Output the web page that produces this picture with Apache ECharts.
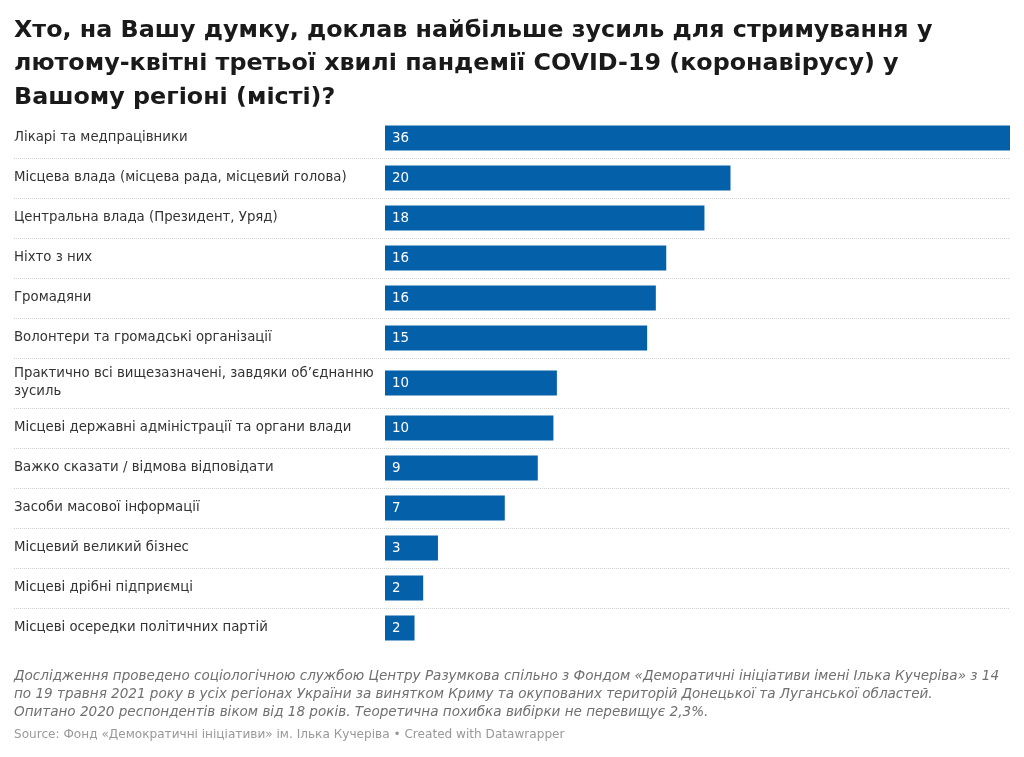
<!DOCTYPE html>
<html>
<head>
<meta charset="utf-8">
<script src="https://cdn.jsdelivr.net/npm/echarts@6/dist/echarts.min.js"></script>
<style>
  html, body { margin: 0; padding: 0; background: #fff; }
  #chart { width: 1024px; height: 757px; }
</style>
</head>
<body>
<div id="chart"></div>
<script>
const titleText = 'Хто, на Вашу думку, доклав найбільше зусиль для стримування у\nлютому-квітні третьої хвилі пандемії COVID-19 (коронавірусу) у\nВашому регіоні (місті)?';
const categories = [
  'Лікарі та медпрацівники',
  'Місцева влада (місцева рада, місцевий голова)',
  'Центральна влада (Президент, Уряд)',
  'Ніхто з них',
  'Громадяни',
  'Волонтери та громадські організації',
  'Практично всі вищезазначені, завдяки об’єднанню\nзусиль',
  'Місцеві державні адміністрації та органи влади',
  'Важко сказати / відмова відповідати',
  'Засоби масової інформації',
  'Місцевий великий бізнес',
  'Місцеві дрібні підприємці',
  'Місцеві осередки політичних партій'
];
const values = [36, 19.9, 18.4, 16.2, 15.6, 15.1, 9.9, 9.7, 8.8, 6.9, 3.05, 2.2, 1.7];
const noteText = 'Дослідження проведено соціологічною службою Центру Разумкова спільно з Фондом «Деморатичні ініціативи імені Ілька Кучеріва» з 14\nпо 19 травня 2021 року в усіх регіонах України за винятком Криму та окупованих територій Донецької та Луганської областей.\nОпитано 2020 респондентів віком від 18 років. Теоретична похибка вибірки не перевищує 2,3%.';
const sourceText = 'Source: Фонд «Демократичні ініціативи» ім. Ілька Кучеріва • Created with Datawrapper';

const FONT = '"DejaVu Sans", sans-serif';
const BLUE = '#0560aa';
const groups = [[0, 6], [6, 7], [7, 13]];
const gridTops = [118, 358, 408];
const gridHeights = [240, 50, 240];
const showMax = [true, true, false];

const chart = echarts.init(document.getElementById('chart'), null, { renderer: 'canvas' });

const grids = [], xAxes = [], yAxes = [], series = [];
groups.forEach((g, i) => {
  grids.push({ left: 14, right: 14, top: gridTops[i], height: gridHeights[i], containLabel: false });
  xAxes.push({
    type: 'value', gridIndex: i, min: -21.37, max: 36,
    show: false, splitLine: { show: false }
  });
  yAxes.push({
    type: 'category', gridIndex: i, inverse: true,
    data: categories.slice(g[0], g[1]),
    axisLine: { show: false, onZero: false },
    axisTick: { show: false },
    axisLabel: {
      inside: true, margin: 0, align: 'left', interval: 0, hideOverlap: false,
      color: '#333', fontFamily: FONT, fontSize: 13.3, lineHeight: 18,
      padding: [0, 0, 4, 0]
    },
    splitLine: {
      show: true, showMinLine: false, showMaxLine: showMax[i],
      lineStyle: { color: '#d0d0d0', type: [1, 1], width: 1 }
    }
  });
  series.push({
    type: 'bar', xAxisIndex: i, yAxisIndex: i,
    data: values.slice(g[0], g[1]),
    barWidth: 25,
    itemStyle: { color: BLUE },
    silent: true,
    label: {
      show: true, position: 'insideLeft', distance: 7, offset: [0, 1],
      color: '#fff', fontFamily: FONT, fontSize: 13.4,
      formatter: p => String(Math.round(p.value))
    }
  });
});

chart.setOption({
  backgroundColor: '#fff',
  animation: false,
  title: [
    {
      text: titleText, left: 14, top: 14, padding: 0,
      textStyle: { fontFamily: FONT, fontWeight: 'bold', fontSize: 23.8, lineHeight: 33.5, color: '#1a1a1a' }
    },
    {
      text: noteText, left: 14, top: 667, padding: 0,
      textStyle: { fontFamily: FONT, fontStyle: 'italic', fontWeight: 'normal', fontSize: 13.55, lineHeight: 18, color: '#707070' }
    },
    {
      text: sourceText, left: 14, top: 727, padding: 0,
      textStyle: { fontFamily: FONT, fontWeight: 'normal', fontSize: 12.1, lineHeight: 16, color: '#999' }
    }
  ],
  grid: grids,
  xAxis: xAxes,
  yAxis: yAxes,
  series: series
});
</script>
</body>
</html>
